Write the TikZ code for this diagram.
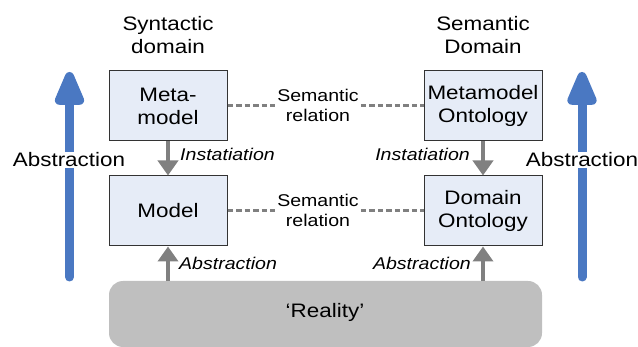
\documentclass[tikz,border=0pt]{standalone}
\usepackage{fontspec}
\setmainfont{Liberation Sans}[FakeStretch=1.15]
\usetikzlibrary{arrows.meta}
\definecolor{boxfill}{HTML}{E6ECF7}
\definecolor{boxline}{HTML}{333333}
\definecolor{arrgray}{HTML}{808080}
\definecolor{bluearr}{HTML}{4A78C2}
\definecolor{realfill}{HTML}{BFBFBF}
\tikzset{
  bigtext/.style={font=\fontsize{19.5}{23}\selectfont, align=center},
  smalltext/.style={font=\fontsize{17}{20}\selectfont, align=center},
  itlabel/.style={font=\fontsize{17}{20}\selectfont\itshape, inner sep=1pt},
  level/.style={draw=boxline, line width=1pt, fill=boxfill, minimum width=118pt, minimum height=70pt, inner sep=0pt, bigtext},
  semline/.style={draw=arrgray, line width=3pt, dash pattern=on 5.5pt off 3pt},
  grayarr/.style={draw=arrgray, line width=4pt, -{Triangle[length=15pt,width=20pt]}},
  bluearrow/.style={draw=bluearr, line width=9pt, line cap=round, -{Triangle[length=41pt,width=31pt,round=false]}},
}
\begin{document}
\begin{tikzpicture}[x=1pt,y=-1pt]
\useasboundingbox (0,0) rectangle (638,347);
% headings
\node[bigtext] (syn) at (168,35) {Syntactic\\domain};
\node[bigtext] (sem) at (483,35) {Semantic\\Domain};
% boxes
\node[level] (mm) at (168,106) {Meta-\\model};
\node[level] (md) at (168,211) {Model};
\node[level] (mo) at (483,106) {Metamodel\\Ontology};
\node[level] (do) at (483,211) {Domain\\Ontology};
% reality
\node[fill=realfill, rounded corners=14pt, minimum width=433pt, minimum height=66pt, inner sep=0pt, bigtext] (real) at (325.5,314) {};
\node[bigtext] (realtxt) at (325,312) {‘Reality’};
% semantic relations
\node[smalltext, inner sep=2pt] (sr1) at (318,105) {Semantic\\relation};
\node[smalltext, inner sep=2pt] (sr2) at (318,210) {Semantic\\relation};
\draw[semline] (mm.east) -- (mm.east -| sr1.west);
\draw[semline] (mo.west -| sr1.east) -- (mo.west);
\draw[semline] (md.east) -- (md.east -| sr2.west);
\draw[semline] (do.west -| sr2.east) -- (do.west);
% instantiation arrows
\draw[grayarr] (mm.south) -- (md.north);
\draw[grayarr] (mo.south) -- (do.north);
\node[itlabel, anchor=west] (il) at (179,154) {Instatiation};
\node[itlabel, anchor=east] (ir) at (471,154) {Instatiation};
% abstraction arrows
\draw[grayarr] (real.north -| md.south) -- (md.south);
\draw[grayarr] (real.north -| do.south) -- (do.south);
\node[itlabel, anchor=west] (al) at (178,263) {Abstraction};
\node[itlabel, anchor=east] (ar) at (472,263) {Abstraction};
% big blue arrows
\coordinate (lb) at (69.5,277);
\coordinate (lt) at (69.5,72);
\coordinate (rb) at (582,277);
\coordinate (rt) at (582,72);
\draw[bluearrow] (lb) -- (lt);
\draw[bluearrow] (rb) -- (rt);
\node[bigtext, fill=white, inner sep=1pt] (abl) at (69,160) {Abstraction};
\node[bigtext, fill=white, inner sep=1pt] (abr) at (582,160) {Abstraction};
\end{tikzpicture}
\end{document}
